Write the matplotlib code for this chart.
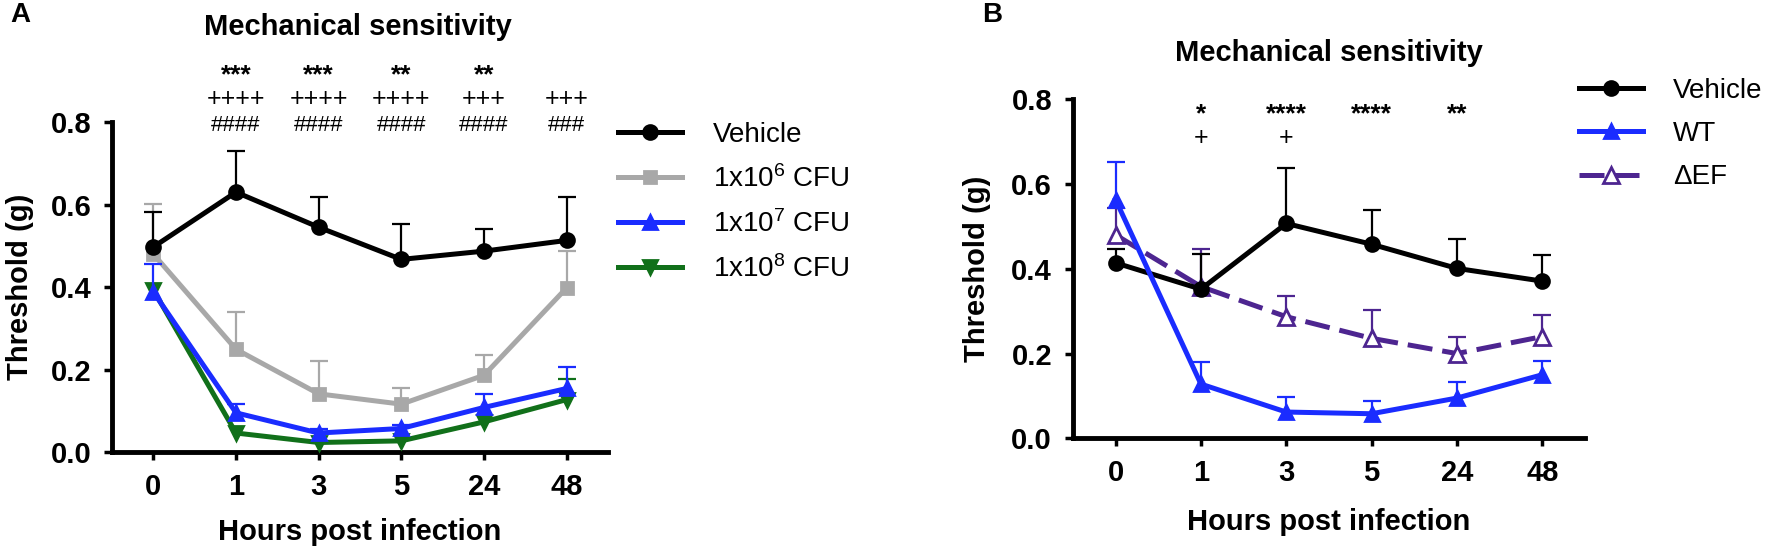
import numpy as np
import matplotlib
matplotlib.use("Agg")
import matplotlib.pyplot as plt
from matplotlib.transforms import blended_transform_factory

plt.rcParams["font.family"] = ["Liberation Sans", "DejaVu Sans"]
plt.rcParams["mathtext.fontset"] = "custom"
plt.rcParams["mathtext.rm"] = "Liberation Sans"
plt.rcParams["mathtext.default"] = "regular"

# ---- data ----
hours = ["0", "1", "3", "5", "24", "48"]

# panel A
a_vehicle = [0.497, 0.630, 0.545, 0.467, 0.487, 0.513]
a_vehicle_err = [0.085, 0.100, 0.074, 0.087, 0.054, 0.105]
a_cfu6 = [0.48, 0.249, 0.141, 0.116, 0.186, 0.398]
a_cfu6_err = [0.122, 0.090, 0.080, 0.040, 0.050, 0.090]
a_cfu7 = [0.388, 0.095, 0.046, 0.057, 0.108, 0.154]
a_cfu7_err = [0.067, 0.021, 0.009, 0.008, 0.032, 0.052]
a_cfu8 = [0.393, 0.046, 0.023, 0.027, 0.073, 0.127]
a_cfu8_err = [0.0, 0.0, 0.0, 0.0, 0.0, 0.049]
a_row1 = ["", "***", "***", "**", "**", ""]
a_row2 = ["", "++++", "++++", "++++", "+++", "+++"]
a_row3 = ["", "####", "####", "####", "####", "###"]

# panel B
b_vehicle = [0.414, 0.352, 0.507, 0.458, 0.401, 0.371]
b_vehicle_err = [0.033, 0.083, 0.132, 0.080, 0.069, 0.061]
b_wt = [0.563, 0.128, 0.062, 0.058, 0.095, 0.150]
b_wt_err = [0.090, 0.051, 0.035, 0.031, 0.039, 0.033]
b_def = [0.480, 0.358, 0.287, 0.236, 0.200, 0.240]
b_def_err = [0.063, 0.089, 0.050, 0.066, 0.040, 0.051]
b_row1 = ["", "*", "****", "****", "**", ""]
b_row2 = ["", "+", "+", "", "", ""]

x = np.arange(len(hours))

fig = plt.figure(figsize=(17.72, 5.49), dpi=100)
ax_a = fig.add_axes([0.0632, 0.1767, 0.2799, 0.601])
ax_b = fig.add_axes([0.6055, 0.2016, 0.2889, 0.6175])

LW = 3.6
ELW = 1.6
CAP = 13


def series(ax, y, err, color, marker, ms, label, z, ls="-", mfc=None):
    y = np.asarray(y)
    top = y + np.asarray(err)
    has = np.asarray(err) > 0
    # upward-only error bars with a cap on top
    ax.vlines(x[has], y[has], top[has], color=color, lw=ELW, zorder=z - 0.5)
    ax.plot(x[has], top[has], ls="none", marker="_", ms=CAP, mew=ELW,
            color=color, zorder=z - 0.5)
    ax.plot(x, y, color=color, lw=LW, ls=ls, marker=marker, ms=ms,
            mfc=mfc or color, mec=color, mew=2, label=label, zorder=z,
            clip_on=False)


def style(ax):
    ax.set_xlim(-0.5, 5.5)
    ax.set_ylim(0, 0.8)
    ax.set_yticks([0.0, 0.2, 0.4, 0.6, 0.8])
    ax.set_yticklabels(["0.0", "0.2", "0.4", "0.6", "0.8"])
    ax.set_xticks(x)
    ax.set_xticklabels(hours)
    for s in ["top", "right"]:
        ax.spines[s].set_visible(False)
    for s in ["left", "bottom"]:
        ax.spines[s].set_linewidth(3.5)
    ax.tick_params(width=2.5, length=6, labelsize=21, pad=9)
    for lab in ax.get_xticklabels() + ax.get_yticklabels():
        lab.set_fontweight("bold")
    ax.set_xlabel("Hours post infection", fontsize=21, fontweight="bold")
    ax.set_ylabel("Threshold (g)", fontsize=21, fontweight="bold")


# panel A
series(ax_a, a_cfu8, a_cfu8_err, "#11701a", "v", 10, r"1x10$^8$ CFU", 3)
series(ax_a, a_cfu7, a_cfu7_err, "#1a2cff", "^", 10, r"1x10$^7$ CFU", 4)
series(ax_a, a_cfu6, a_cfu6_err, "#a8a8a8", "s", 9, r"1x10$^6$ CFU", 2)
series(ax_a, a_vehicle, a_vehicle_err, "black", "o", 10, "Vehicle", 5)
style(ax_a)
ax_a.xaxis.set_label_coords(0.5, -0.2)
ax_a.yaxis.set_label_coords(-0.157, 0.5)

ta = blended_transform_factory(ax_a.transData, fig.transFigure)
ax_a.text(2.48, 0.951, "Mechanical sensitivity", transform=ta, ha="center",
          va="center", fontsize=21, fontweight="bold")
for i in x:
    ax_a.text(i, 0.862, a_row1[i], transform=ta, ha="center", va="center",
              fontsize=19, fontweight="bold")
    ax_a.text(i, 0.8197, a_row2[i], transform=ta, ha="center", va="center", fontsize=18)
    ax_a.text(i, 0.7705, a_row3[i], transform=ta, ha="center", va="center", fontsize=16)

h, l = ax_a.get_legend_handles_labels()
order = [3, 2, 1, 0]
fig.legend([h[k] for k in order], [l[k] for k in order], loc="upper left",
           bbox_to_anchor=(0.3488, 0.778), frameon=False, fontsize=20,
           borderpad=0, borderaxespad=0, handlelength=2.3,
           handletextpad=1.1, labelspacing=0.62)

# panel B
series(ax_b, b_def, b_def_err, "#4d2590", "^", 11, "ΔEF", 3, ls=(0, (5, 2)), mfc="white")
series(ax_b, b_vehicle, b_vehicle_err, "black", "o", 10, "Vehicle", 4)
series(ax_b, b_wt, b_wt_err, "#1a2cff", "^", 10, "WT", 5)
style(ax_b)
ax_b.xaxis.set_label_coords(0.5, -0.206)
ax_b.yaxis.set_label_coords(-0.16, 0.5)

tb = blended_transform_factory(ax_b.transData, fig.transFigure)
ax_b.text(2.5, 0.9035, "Mechanical sensitivity", transform=tb, ha="center",
          va="center", fontsize=21, fontweight="bold")
for i in x:
    ax_b.text(i, 0.792, b_row1[i], transform=tb, ha="center", va="center",
              fontsize=19, fontweight="bold")
    ax_b.text(i, 0.7486, b_row2[i], transform=tb, ha="center", va="center", fontsize=18)

h, l = ax_b.get_legend_handles_labels()
order = [1, 2, 0]
fig.legend([h[k] for k in order], [l[k] for k in order], loc="upper left",
           bbox_to_anchor=(0.891, 0.858), frameon=False, fontsize=20,
           borderpad=0, borderaxespad=0, handlelength=2.3,
           handletextpad=1.1, labelspacing=0.62)

fig.text(0.006, 0.972, "A", fontsize=20, fontweight="bold", va="center")
fig.text(0.554, 0.972, "B", fontsize=20, fontweight="bold", va="center")

fig.savefig("out.png", dpi=100)
